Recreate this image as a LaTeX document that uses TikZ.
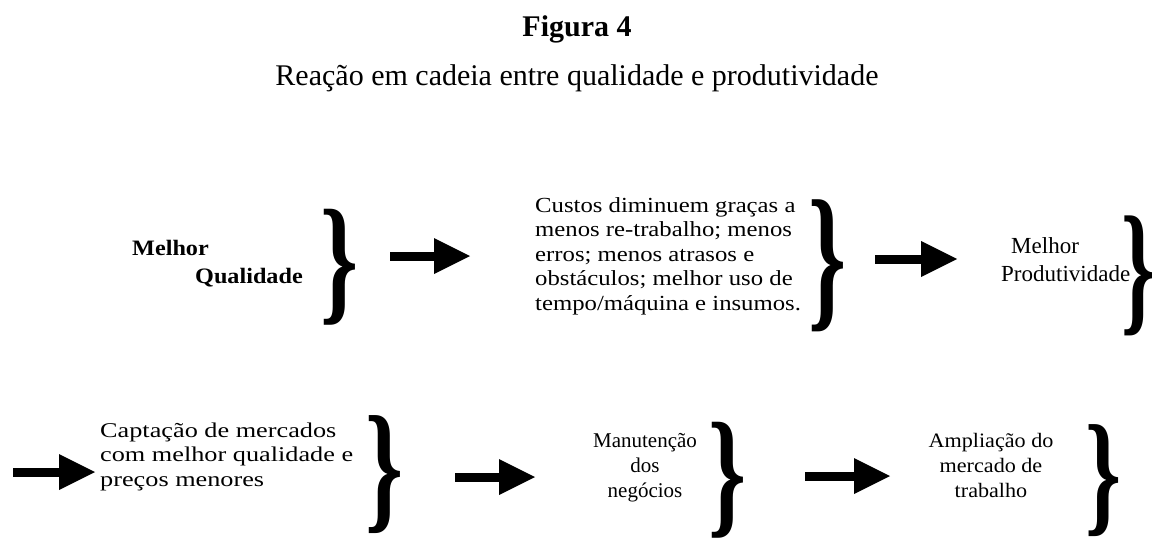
\documentclass[tikz,border=0pt]{standalone}
\usepackage{fontspec}
\usepackage{graphicx}
\setmainfont{Liberation Serif}
\newfontfamily\serifA[FakeStretch=1.1]{Liberation Serif}
\newfontfamily\serifB[FakeStretch=1.15]{Liberation Serif}
\newfontfamily\serifC[FakeStretch=1.25]{Liberation Serif}
\newfontfamily\serifD[FakeStretch=1.08]{Liberation Serif}
\usetikzlibrary{arrows.meta}

% tall right curly brace glyph: width, total height
\newcommand{\tallbrace}[2]{\resizebox*{#1}{#2}{\bfseries\}}}

\tikzset{
  blockarrow/.style={line width=9pt, -{Triangle[length=36pt,width=36pt,line width=0pt]}},
  txt/.style={inner sep=0pt, anchor=base west, align=left},
  ctxt/.style={inner sep=0pt, anchor=base, align=center},
  brace/.style={inner sep=0pt, anchor=center}
}

\begin{document}
\begin{tikzpicture}[x=1pt,y=-1pt]
\clip (0,0) rectangle (1152,538);
\fill[white] (0,0) rectangle (1152,538);

% titles
\node[ctxt, font=\bfseries\fontsize{30pt}{34pt}\selectfont] (fig) at (577,36) {Figura 4};
\node[ctxt, font=\fontsize{30pt}{34pt}\selectfont] (sub) at (577,85) {Reação em cadeia entre qualidade e produtividade};

% row 1 (base anchor = last line baseline)
\node[txt, font={\serifA\bfseries\fontsize{22pt}{28pt}\selectfont}] (t1) at (132,283) {Melhor\\\hspace*{63pt}Qualidade};
\node[brace] (b1) at (340,267.5) {\tallbrace{38pt}{116pt}};
\coordinate (a1s) at (390,256); \coordinate (a1e) at (470,256);
\draw[blockarrow] (a1s) -- (a1e);

\node[txt, font={\serifB\fontsize{21.5pt}{24.5pt}\selectfont}] (t2) at (535,310) {Custos diminuem graças a\\menos re-trabalho; menos\\erros; menos atrasos e\\obstáculos; melhor uso de\\tempo/máquina e insumos.};
\node[brace] (b2) at (828,266) {\tallbrace{38pt}{132pt}};
\coordinate (a2s) at (875,259); \coordinate (a2e) at (957,259);
\draw[blockarrow] (a2s) -- (a2e);

\node[txt, font={\fontsize{23pt}{28pt}\selectfont}] (t3) at (1001,281) {\hspace*{10pt}Melhor\\Produtividade};
\node[brace] (b3) at (1139,276) {\tallbrace{34pt}{120pt}};

% row 2
\coordinate (a3s) at (13,472); \coordinate (a3e) at (95,472);
\draw[blockarrow] (a3s) -- (a3e);
\node[txt, font={\serifC\fontsize{21pt}{24.5pt}\selectfont}] (t4) at (100,486) {Captação de mercados\\com melhor qualidade e\\preços menores};
\node[brace] (b4) at (385,475) {\tallbrace{38pt}{118pt}};
\coordinate (a4s) at (455,477); \coordinate (a4e) at (535,477);
\draw[blockarrow] (a4s) -- (a4e);

\node[ctxt, font={\fontsize{21pt}{25pt}\selectfont}] (t5) at (645,497) {Manutenção\\dos\\negócios};
\node[brace] (b5) at (728,480) {\tallbrace{38pt}{116pt}};
\coordinate (a5s) at (805,476); \coordinate (a5e) at (890,476);
\draw[blockarrow] (a5s) -- (a5e);

\node[ctxt, font={\serifD\fontsize{20.5pt}{25pt}\selectfont}] (t6) at (991,497) {Ampliação do\\mercado de\\trabalho};
\node[brace] (b6) at (1104,481) {\tallbrace{36pt}{112pt}};
\end{tikzpicture}
\end{document}
